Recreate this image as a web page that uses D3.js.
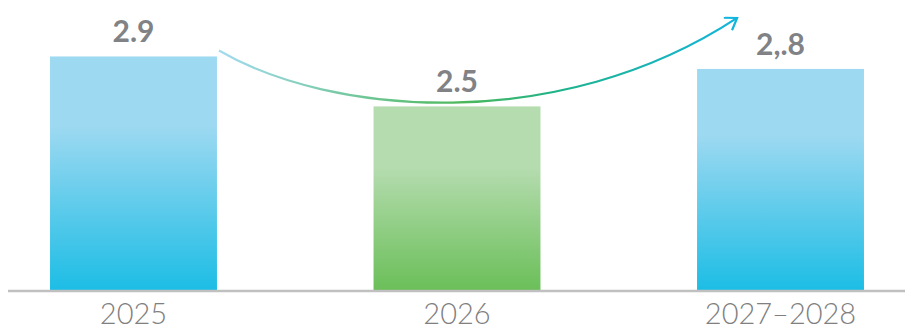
<!DOCTYPE html>
<html lang="en">
  <head>
    <meta charset="utf-8">
    <title>growth bars</title>
    <style>
      body { margin: 0; background: #fff; }
    </style>
  </head>
  <body>
    <div id="chart"></div>
    <script src="https://d3js.org/d3.v7.min.js"></script>
    <script>

    // data
    var categories = ["2025", "2026", "2027–2028"];
    var values = [2.9, 2.5, 2.8];
    var valueLabels = ["2.9", "2.5", "2,.8"];
    var barKind = ["blue", "green", "blue"];

    var width = 905, height = 331;

    var svg = d3.select("#chart")
      .append("svg")
        .attr("width", width)
        .attr("height", height);

    var defs = svg.append("defs");

    // bar gradients: flat light on top, darker at the bottom
    var blue = defs.append("linearGradient")
      .attr("id", "grad-blue")
      .attr("x1", 0).attr("y1", 0).attr("x2", 0).attr("y2", 1);
    blue.append("stop").attr("offset", "0").attr("stop-color", "#9dd9f1");
    blue.append("stop").attr("offset", "0.3").attr("stop-color", "#9dd9f1");
    blue.append("stop").attr("offset", "1").attr("stop-color", "#1dbde5");

    var green = defs.append("linearGradient")
      .attr("id", "grad-green")
      .attr("x1", 0).attr("y1", 0).attr("x2", 0).attr("y2", 1);
    green.append("stop").attr("offset", "0").attr("stop-color", "#b5dcaf");
    green.append("stop").attr("offset", "0.33").attr("stop-color", "#b5dcaf");
    green.append("stop").attr("offset", "1").attr("stop-color", "#6bbf59");

    // scales
    var x = d3.scaleBand()
      .domain(categories)
      .range([1.5, 912.5])
      .paddingInner(0.484)
      .paddingOuter(0.15);

    var y = d3.scaleLinear()
      .domain([1.03, 3.2])
      .range([290, 19]);

    // bars
    svg.selectAll("rect.bar")
      .data(values)
      .enter()
      .append("rect")
        .attr("class", "bar")
        .attr("x", function(d, i){ return x(categories[i]); })
        .attr("y", function(d){ return y(d); })
        .attr("width", x.bandwidth())
        .attr("height", function(d){ return y.range()[0] - y(d); })
        .attr("fill", function(d, i){ return "url(#grad-" + barKind[i] + ")"; });

    // baseline
    svg.append("line")
      .attr("x1", 8).attr("x2", width)
      .attr("y1", y.range()[0] + 1).attr("y2", y.range()[0] + 1)
      .attr("stroke", "#c0c0c0")
      .attr("stroke-width", 2.5);

    // category labels
    svg.selectAll("text.cat")
      .data(categories)
      .enter()
      .append("text")
        .attr("class", "cat")
        .attr("x", function(d){ return x(d) + x.bandwidth() / 2; })
        .attr("y", 324)
        .attr("text-anchor", "middle")
        .attr("font-family", "Lato, sans-serif")
        .attr("font-weight", 300)
        .attr("font-size", "29px")
        .attr("fill", "#808080")
        .text(function(d){ return d; });

    // value labels
    svg.selectAll("text.val")
      .data(values)
      .enter()
      .append("text")
        .attr("class", "val")
        .attr("x", function(d, i){ return x(categories[i]) + x.bandwidth() / 2; })
        .attr("y", function(d){ return y(d) - 14; })
        .attr("text-anchor", "middle")
        .attr("font-family", "Lato, sans-serif")
        .attr("font-weight", 700)
        .attr("font-size", "30px")
        .attr("fill", "#808285")
        .text(function(d, i){ return valueLabels[i]; });

    // trend arrow, anchored on the bars
    var bw = x.bandwidth();
    var p0 = [x(categories[0]) + bw + 2, y(values[0]) - 6];
    var c1 = [x(categories[0]) + bw + 113, y(values[1]) + 9];
    var c2 = [x(categories[1]) + bw + 18, y(values[1]) + 29];
    var p3 = [x(categories[2]) + bw * 0.24, y(values[2]) - 51];

    var arrowGrad = defs.append("linearGradient")
      .attr("id", "grad-arrow")
      .attr("gradientUnits", "userSpaceOnUse")
      .attr("x1", p0[0]).attr("y1", 0)
      .attr("x2", p3[0]).attr("y2", 0);
    arrowGrad.append("stop").attr("offset", "0").attr("stop-color", "#a3dbf0");
    arrowGrad.append("stop").attr("offset", "0.47").attr("stop-color", "#4cb85a");
    arrowGrad.append("stop").attr("offset", "0.65").attr("stop-color", "#1fb38a");
    arrowGrad.append("stop").attr("offset", "1").attr("stop-color", "#12b5dc");

    defs.append("marker")
      .attr("id", "arrowhead")
      .attr("viewBox", "-12 -8 14 16")
      .attr("refX", 0).attr("refY", 0)
      .attr("markerWidth", 14).attr("markerHeight", 16)
      .attr("markerUnits", "userSpaceOnUse")
      .attr("orient", "auto")
    .append("path")
      .attr("d", "M-11,-7.5 L0,0 L-11,7.5")
      .attr("fill", "none")
      .attr("stroke", "#12b5dc")
      .attr("stroke-width", 2.2);

    var path = d3.path();
    path.moveTo(p0[0], p0[1]);
    path.bezierCurveTo(c1[0], c1[1], c2[0], c2[1], p3[0], p3[1]);

    svg.append("path")
      .attr("d", path.toString())
      .attr("fill", "none")
      .attr("stroke", "url(#grad-arrow)")
      .attr("stroke-width", 2.2)
      .attr("marker-end", "url(#arrowhead)");

    </script>
  </body>
</html>
